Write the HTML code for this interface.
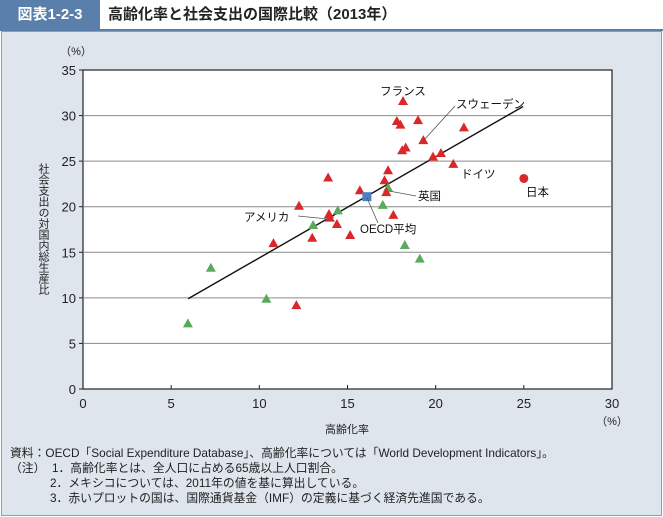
<!DOCTYPE html>
<html><head><meta charset="utf-8">
<style>
body{margin:0;width:663px;height:517px;background:#fff;font-family:"Liberation Sans","Noto Sans CJK JP",sans-serif;overflow:hidden;position:relative}
#hdr-tag{position:absolute;left:0;top:0;width:100px;height:29px;background:#5a7fab;color:#fff;font-size:15px;font-weight:bold;line-height:29px;text-align:center}
#hdr-title{position:absolute;left:108px;top:0;height:29px;line-height:29px;font-size:15px;font-weight:bold;color:#222}
#hdr-line{position:absolute;left:0;top:29px;width:663px;height:2px;background:#5a7fab}
#panel{position:absolute;left:1px;top:31px;width:659px;height:483px;background:#dee5ec;border:1px solid #9a9a9a}
.note{position:absolute;font-size:11.8px;color:#222;white-space:nowrap}
svg{position:absolute;left:0;top:0}
</style></head><body>
<div id="hdr-tag">図表1-2-3</div>
<div id="hdr-title">高齢化率と社会支出の国際比較（2013年）</div>
<div id="hdr-line"></div>
<div id="panel"></div>
<svg id="chart" width="663" height="517"></svg>
<div class="note" style="left:10px;top:444px">資料：OECD「Social Expenditure Database」、高齢化率については「World Development Indicators」。</div>
<div class="note" style="left:10px;top:459px">（注）&nbsp; 1．高齢化率とは、全人口に占める65歳以上人口割合。</div>
<div class="note" style="left:50px;top:474px">2．メキシコについては、2011年の値を基に算出している。</div>
<div class="note" style="left:50px;top:489px">3．赤いプロットの国は、国際通貨基金（IMF）の定義に基づく経済先進国である。</div>
<script>
const redX=[18.15,17.8,18.0,19.0,21.6,18.3,19.3,18.1,19.85,20.3,21.0,17.3,13.9,17.1,15.7,17.2,12.25,13.95,14.0,14.4,17.6,13.0,15.15,10.8,12.1];
const redY=[31.6,29.4,29.0,29.5,28.7,26.5,27.3,26.2,25.5,25.9,24.7,24.0,23.2,22.9,21.8,21.6,20.1,19.2,18.8,18.1,19.1,16.6,16.9,16.0,9.2];
const greenX=[17.3,14.45,13.05,17.0,18.25,19.1,7.25,10.4,5.95];
const greenY=[22.1,19.6,18.0,20.2,15.8,14.3,13.3,9.9,7.2];
const japan=[25.0,23.1];
const oecd=[16.1,21.1];
const fitX=[5.96,24.96];
const fitY=[9.9,31.0];
const xTicks=[0,5,10,15,20,25,30];
const yTicks=[0,5,10,15,20,25,30,35];
const L=83,R=612,T=70,B=389;
const sx=v=>L+(v-0)/30*(R-L);
const sy=v=>B-(v-0)/35*(B-T);
const svg=document.getElementById('chart');
const NS='http://www.w3.org/2000/svg';
function mk(tag,at,parent){const e=document.createElementNS(NS,tag);for(const k in at)e.setAttribute(k,at[k]);(parent||svg).appendChild(e);return e;}
let e;
e=mk('rect',{x:L,y:T,width:R-L,height:B-T,fill:'#fff',stroke:'#222','stroke-width':1.2});


yTicks.forEach(t=>{
  if(t>0&&t<35){e=mk('line',{x1:L,x2:R,y1:sy(t),y2:sy(t),stroke:'#8a8a8a','stroke-width':1});
  
  }
  e=mk('line',{x1:L-4,x2:L,y1:sy(t),y2:sy(t),stroke:'#222'});
  
  
  e=mk('text',{x:L-7,y:sy(t)+5,'text-anchor':'end','font-size':13,fill:'#222'});e.textContent=t;
  
  
});
xTicks.forEach(t=>{
  e=mk('line',{x1:sx(t),x2:sx(t),y1:B,y2:B-4,stroke:'#222'});
  
  
  e=mk('text',{x:sx(t),y:B+19,'text-anchor':'middle','font-size':13,fill:'#222'});e.textContent=t;
  
  
});
e=mk('text',{x:76,y:55,'text-anchor':'middle','font-size':11,fill:'#222'});e.textContent='（%）';


e=mk('text',{x:612,y:425,'text-anchor':'middle','font-size':11,fill:'#222'});e.textContent='（%）';


e=mk('text',{x:347,y:433,'text-anchor':'middle','font-size':11,fill:'#222'});e.textContent='高齢化率';


e=mk('text',{x:43,y:163,'font-size':11,fill:'#222',style:'writing-mode:vertical-rl;text-orientation:upright'});e.textContent='社会支出の対国内総生産比';


e=mk('line',{x1:sx(fitX[0]),y1:sy(fitY[0]),x2:sx(fitX[1]),y2:sy(fitY[1]),stroke:'#111','stroke-width':1.4});


function tri(x,y,c,name){const cx=sx(x),cy=sy(y);
  e=mk('polygon',{points:`${cx},${cy-5} ${cx-5},${cy+4} ${cx+5},${cy+4}`,fill:c});
  
  }
greenX.forEach((x,i)=>tri(x,greenY[i],'#5aaa5e','point-other-country'));
redX.forEach((x,i)=>tri(x,redY[i],'#d9282a','point-advanced-economy'));
e=mk('circle',{cx:sx(japan[0]),cy:sy(japan[1]),r:4.5,fill:'#d9282a'});


e=mk('rect',{x:sx(oecd[0])-4.5,y:sy(oecd[1])-4.5,width:9,height:9,fill:'#4a7fc0'});


function leader(x1,y1,x2,y2){e=mk('line',{x1,y1,x2,y2,stroke:'#555','stroke-width':0.8});
  
  }
leader(424,140,455,106);leader(389,191,416,196);leader(298,216,328,219);leader(367,198,378,223);
function lab(x,y,t,name,anchor){e=mk('text',{x,y,'font-size':11.5,fill:'#111','text-anchor':anchor||'start'});e.textContent=t;
  
  }
lab(403,95,'フランス','label-france','middle');
lab(456,108,'スウェーデン','label-sweden');
lab(461,178,'ドイツ','label-germany');
lab(526,196,'日本','label-japan');
lab(418,200,'英国','label-uk');
lab(244,221,'アメリカ','label-usa');
lab(360,233,'OECD平均','label-oecd-average');
</script>
</body></html>
